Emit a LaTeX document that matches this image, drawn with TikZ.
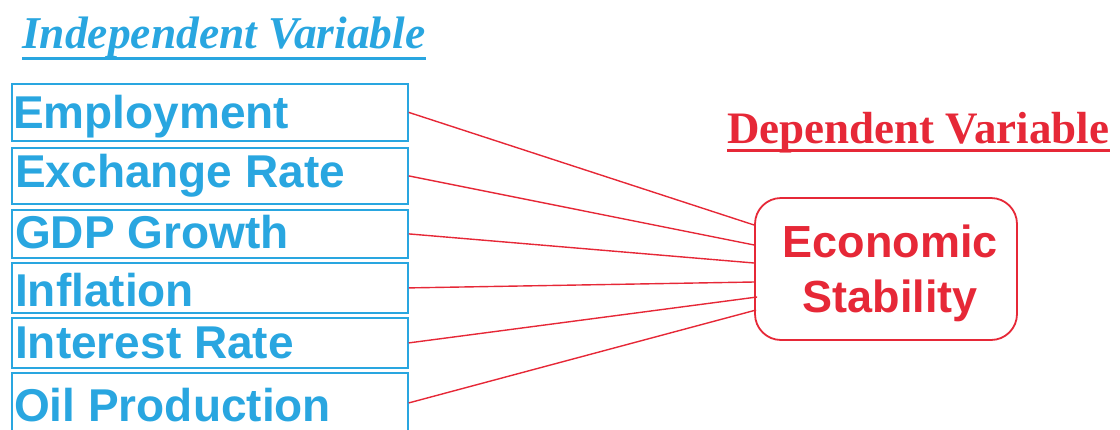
\documentclass[tikz,border=0pt]{standalone}
\usepackage{fontspec}
\setmainfont{Liberation Serif}
\setsansfont{Liberation Sans}
\definecolor{vblue}{RGB}{41,166,224}
\definecolor{vred}{RGB}{230,40,55}
\begin{document}
\begin{tikzpicture}[x=1pt,y=1pt,
  vbox/.style={draw=vblue, line width=1.8pt, rectangle, inner sep=0pt, anchor=north west, minimum width=396pt},
  vtext/.style={text=vblue, font=\fontsize{46}{50}\selectfont\sffamily\bfseries, inner sep=0pt, anchor=base west},
  link/.style={draw=vred, line width=1.4pt},
  title/.style={inner sep=0pt, anchor=base west, font=\fontsize{45}{50}\selectfont\bfseries},
  ecobox/.style={draw=vred, line width=1.8pt, rounded corners=26pt, rectangle, inner sep=0pt, minimum width=262pt, minimum height=142pt}
]
\useasboundingbox (0,0) rectangle (1120,-429);
% title left
\node[title, text=vblue, font=\fontsize{45.5}{50}\selectfont\bfseries\itshape] (ind) at (22,-48) {Independent Variable};
\draw[vblue, line width=3pt] ([yshift=-10pt]ind.base west) -- ([yshift=-10pt]ind.base east);
% title right
\node[title, text=vred] (dep) at (727,-143) {Dependent Variable};
\draw[vred, line width=3pt] ([yshift=-7pt]dep.base west) -- ([yshift=-7pt]dep.base east);
% boxes
\node[vbox, minimum height=57pt] (b1) at (11,-83) {};
\node[vbox, minimum height=56pt] (b2) at (11,-147) {};
\node[vbox, minimum height=48pt] (b3) at (11,-209) {};
\node[vbox, minimum height=50pt] (b4) at (11,-262) {};
\node[vbox, minimum height=50pt] (b5) at (11,-317) {};
\node[vbox, minimum height=60pt] (b6) at (11,-372) {};
\node[vtext] (t1) at (13,-128) {Employment};
\node[vtext] (t2) at (15,-187) {Exchange Rate};
\node[vtext] (t3) at (15,-248) {GDP Growth};
\node[vtext] (t4) at (15,-306) {Inflation};
\node[vtext] (t5) at (15,-358) {Interest Rate};
\node[vtext] (t6) at (14,-421) {Oil Production};
% dependent box
\node[ecobox] (eco) at (886,-269) {};
\node[text=vred, font=\fontsize{45}{55}\selectfont\sffamily\bfseries, align=center, inner sep=0pt, anchor=base] (ecot) at (890,-312) {Economic\\Stability};
% connectors
\draw[link] (b1.east) -- ([yshift=44pt]eco.west);
\draw[link] (b2.east) -- ([yshift=24pt]eco.west);
\draw[link] (b3.east) -- ([yshift=6pt]eco.west);
\draw[link] (b4.east) -- ([yshift=-13pt]eco.west);
\draw[link] (b5.east) -- ([xshift=3pt,yshift=-28pt]eco.west);
\draw[link] (b6.east) -- ([xshift=2pt,yshift=-41pt]eco.west);
\end{tikzpicture}
\end{document}
